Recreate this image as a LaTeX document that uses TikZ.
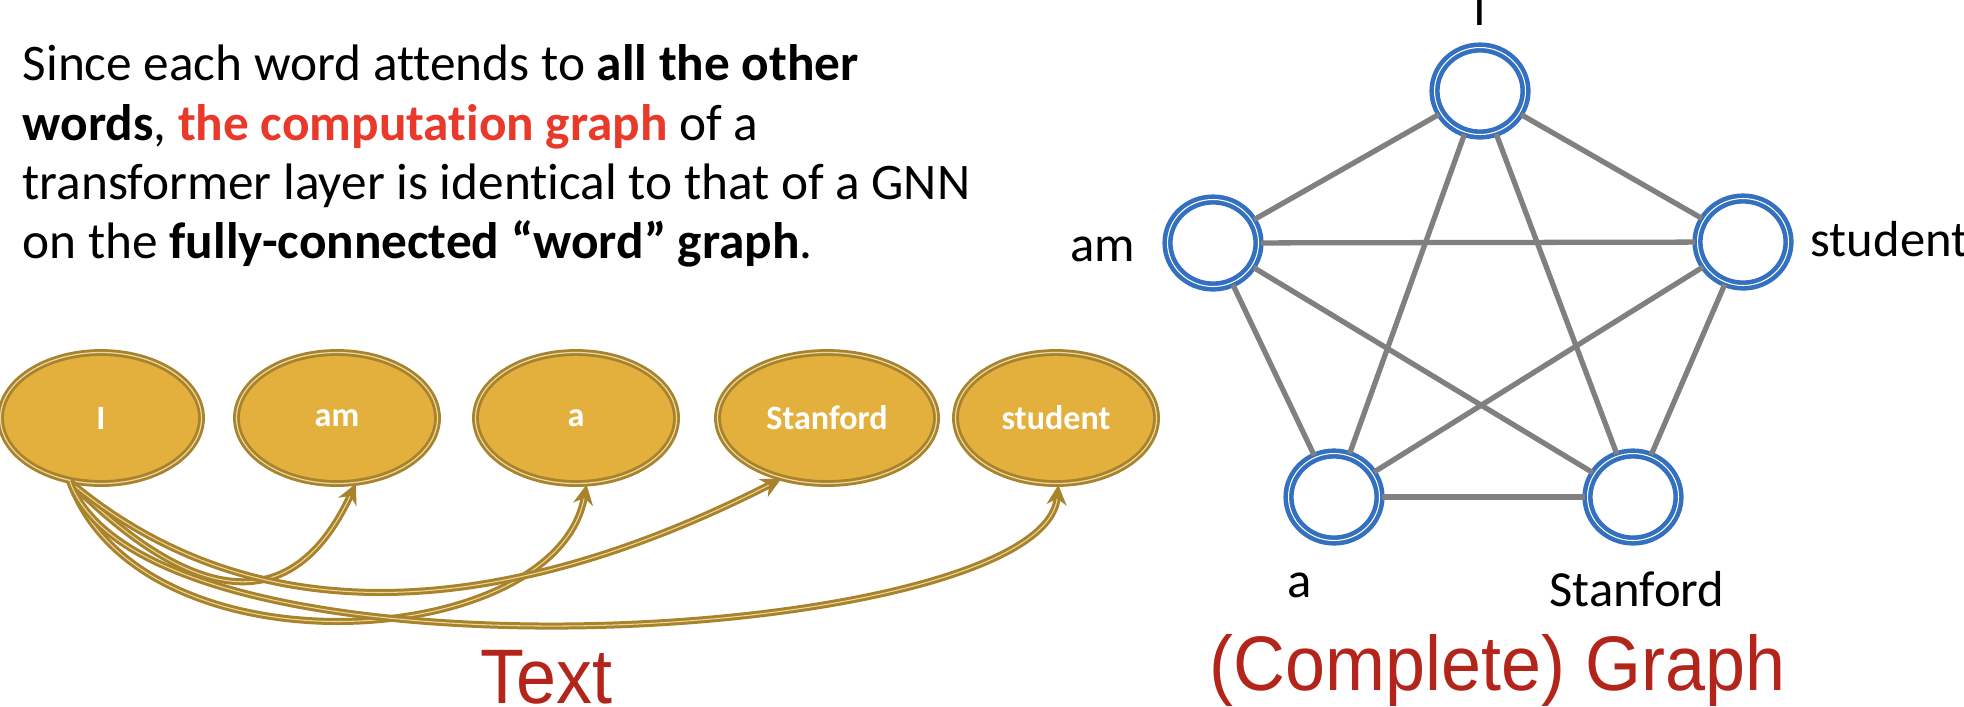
\documentclass[tikz,border=0pt]{standalone}
\usepackage{fontspec}
\setmainfont[Ligatures=NoCommon]{Carlito}
\newfontfamily\headfont[FakeStretch=0.93]{Liberation Sans}
\usepackage{xcolor}
\usetikzlibrary{shapes.geometric, arrows.meta}

\definecolor{wordfill}{HTML}{E3B03E}
\definecolor{wordline}{HTML}{A8832B}
\definecolor{wordlight}{HTML}{EAD7A0}
\definecolor{vblue}{HTML}{3370BF}
\definecolor{linkgray}{HTML}{808080}
\definecolor{hotred}{HTML}{E8392A}
\definecolor{headred}{HTML}{B3241B}

\tikzset{
  word/.style={ellipse, fill=wordfill, draw=wordline, double=wordlight, double distance=0.35pt,
    line width=0.8pt, minimum width=2.01cm, minimum height=1.31cm, inner sep=0pt,
    text=white, font=\fontsize{9.7}{11}\selectfont\bfseries},
  attend/.style={draw=wordline, double=wordlight, double distance=0.3pt, line width=0.85pt,
    -{Stealth[length=2mm,width=2mm]}},
  vertex/.style={ellipse, fill=white, draw=vblue, double=white, double distance=0.3pt,
    line width=1.3pt, minimum width=0.91cm, minimum height=0.87cm, inner sep=0pt},
  link/.style={draw=linkgray, line width=1.5pt},
  vlabel/.style={anchor=base west, inner sep=0pt, font=\fontsize{14.4}{17}\selectfont},
  headline/.style={anchor=base west, inner sep=0pt, text=headred, font=\headfont\fontsize{22}{26}\selectfont}
}

\begin{document}
\begin{tikzpicture}

\useasboundingbox (0,0) rectangle (19.64,7.06);

\node[anchor=north west, inner sep=0pt, align=left, font=\fontsize{14.6}{16.9}\selectfont] (intro) at (0.22,6.62)
  {Since each word attends to \textbf{all the other}\\
   \textbf{words}, \textcolor{hotred}{\textbf{the computation graph}} of a\\
   transformer layer is identical to that of a GNN\\
   on the \textbf{fully-connected “word” graph}.};

\node[word] (wI) at (1.01,2.88) {I};
\node[word] (wam) at (3.37,2.88) {am};
\node[word] (wa) at (5.76,2.88) {a};
\node[word, minimum width=2.19cm] (wStanford) at (8.27,2.88) {Stanford};
\node[word] (wstudent) at (10.56,2.88) {student};

\draw[attend] (wI.-116) .. controls +(-45:1.6) and +(-115:1.6) .. (wam.-74);
\draw[attend] (wI.-116) .. controls +(-70:2.1) and +(-100:1.7) .. (wa.-81);
\draw[attend] (wI.-116) .. controls +(-40:2.8) and +(-153:2.5) .. (wStanford.-127);
\draw[attend] (wI.-116) .. controls +(-70:2.3) and +(-95:1.6) .. (wstudent.-88);

\node[headline] (textcap) at (4.80,0.03) {Text};

\node[vertex] (gI) at (14.80,6.15) {};
\node[vertex] (gam) at (12.13,4.63) {};
\node[vertex] (gstudent) at (17.43,4.64) {};
\node[vertex] (ga) at (13.34,2.09) {};
\node[vertex] (gStanford) at (16.33,2.09) {};

\draw[link] (gI) -- (gam);
\draw[link] (gI) -- (gstudent);
\draw[link] (gI) -- (ga);
\draw[link] (gI) -- (gStanford);
\draw[link] (gam) -- (gstudent);
\draw[link] (gam) -- (ga);
\draw[link] (gam) -- (gStanford);
\draw[link] (gstudent) -- (ga);
\draw[link] (gstudent) -- (gStanford);
\draw[link] (ga) -- (gStanford);

\node[vlabel, anchor=base] (lI) at (14.80,6.81) {I};
\node[vlabel] (lam) at (10.70,4.45) {am};
\node[vlabel] (lstudent) at (18.10,4.50) {student};
\node[vlabel] (la) at (12.87,1.09) {a};
\node[vlabel] (lStanford) at (15.49,1.00) {Stanford};

\node[headline] (graphcap) at (12.09,0.16) {(Complete) Graph};

\end{tikzpicture}
\end{document}
